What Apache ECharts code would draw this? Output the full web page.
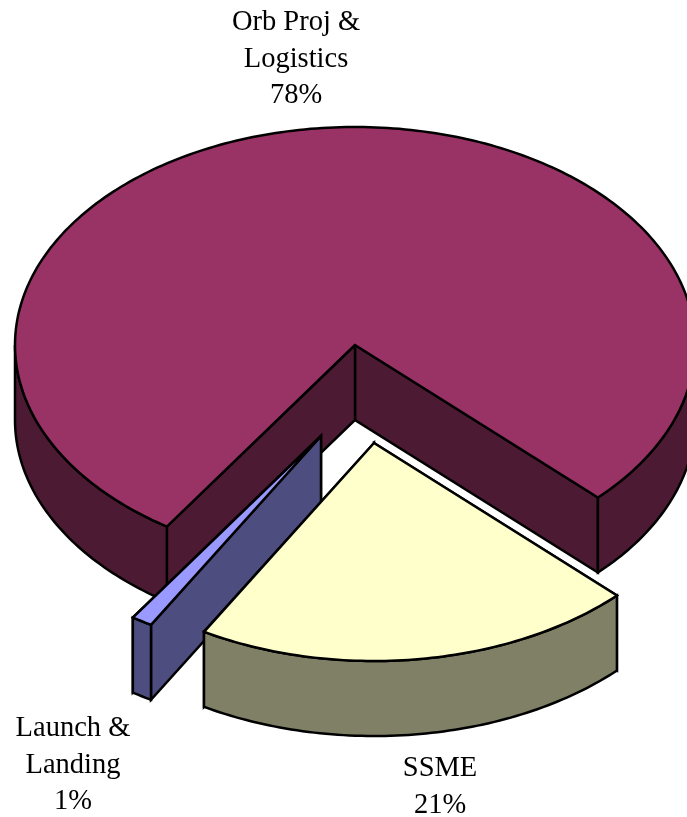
<!DOCTYPE html>
<html>
<head>
<meta charset="utf-8">
<style>html,body{margin:0;padding:0;background:#fff}#chart{width:687px;height:817px}</style>
<script src="https://cdn.jsdelivr.net/npm/echarts@6/dist/echarts.min.js"></script>
</head>
<body>
<div id="chart"></div>
<script>
// Budget shares, in percent
const categories = ['Orb Proj &\nLogistics', 'Launch &\nLanding', 'SSME'];
const shares = [78, 1, 21];

// Slice colours
const topColors = ['#993366', '#9999FF', '#FFFFCC'];
const sideColors = ['#4D1A33', '#4D4D80', '#808066'];

// Tilted pie layout
const centerX = 355, centerY = 345, radiusX = 340, radiusY = 218, depth = 75;
const firstAngle = 404.4;                 // degrees, clockwise from 3 o'clock
const explode = [[0, 0], [-34, 91], [19, 98]];
const labelAnchors = [[296, 59.5], [73, 765.5], [440, 787]];

const total = shares.reduce((a, b) => a + b, 0);
const sliceEnds = [];
shares.reduce((angle, v, i) => {
  const next = angle - v / total * 360;
  sliceEnds[i] = [angle, next];
  return next;
}, firstAngle);

function rimPoint(deg, ox, oy, drop) {
  const r = deg * Math.PI / 180;
  return [centerX + ox + radiusX * Math.cos(r), centerY + oy + radiusY * Math.sin(r) + drop];
}
function arc(from, to, ox, oy, drop) {
  const pts = [], n = Math.max(1, Math.ceil(Math.abs(to - from)));
  for (let i = 0; i <= n; i++) pts.push(rimPoint(from + (to - from) * i / n, ox, oy, drop));
  return pts;
}
const outline = { stroke: '#000', lineWidth: 2.5, lineJoin: 'miter' };

function poly(points, fill) {
  return { type: 'polygon', silent: true, shape: { points }, style: Object.assign({ fill }, outline) };
}

function renderSlice(params, api) {
  const i = params.dataIndex;
  const [hi, lo] = sliceEnds[i];
  const [ox, oy] = explode[i];
  const apex = [centerX + ox, centerY + oy];
  const apexLow = [apex[0], apex[1] + depth];
  const side = sideColors[i];
  const children = [];

  // Cut faces, the trailing edge first so the leading one stays in front
  [hi, lo].forEach(a => {
    children.push(poly([apex, rimPoint(a, ox, oy, 0), rimPoint(a, ox, oy, depth), apexLow], side));
  });

  // Outer wall: only the stretches of rim on the viewer's side of the pie
  for (let k = 0; k <= 2; k++) {
    const from = Math.max(lo, k * 360);
    const to = Math.min(hi, k * 360 + 180);
    if (to > from) {
      children.push(poly(arc(from, to, ox, oy, 0).concat(arc(to, from, ox, oy, depth)), side));
    }
  }

  // Top face
  children.push(poly([apex].concat(arc(lo, hi, ox, oy, 0)), topColors[i]));

  // Label with the share carried by this slice
  children.push({
    type: 'text',
    silent: true,
    z2: 10,
    style: {
      x: labelAnchors[i][0],
      y: labelAnchors[i][1],
      text: categories[i] + '\n' + api.value(0) + '%',
      align: 'center',
      verticalAlign: 'middle',
      fontFamily: '"Liberation Serif", "Times New Roman", serif',
      fontSize: 28.5,
      lineHeight: 36.5,
      fill: '#000'
    }
  });
  return { type: 'group', children };
}

const chart = echarts.init(document.getElementById('chart'), null, { renderer: 'canvas' });
chart.setOption({
  animation: false,
  backgroundColor: '#fff',
  series: [{
    type: 'custom',
    coordinateSystem: 'none',
    renderItem: renderSlice,
    data: shares.map((v, i) => ({ name: categories[i], value: [v] }))
  }]
});
</script>
</body>
</html>
